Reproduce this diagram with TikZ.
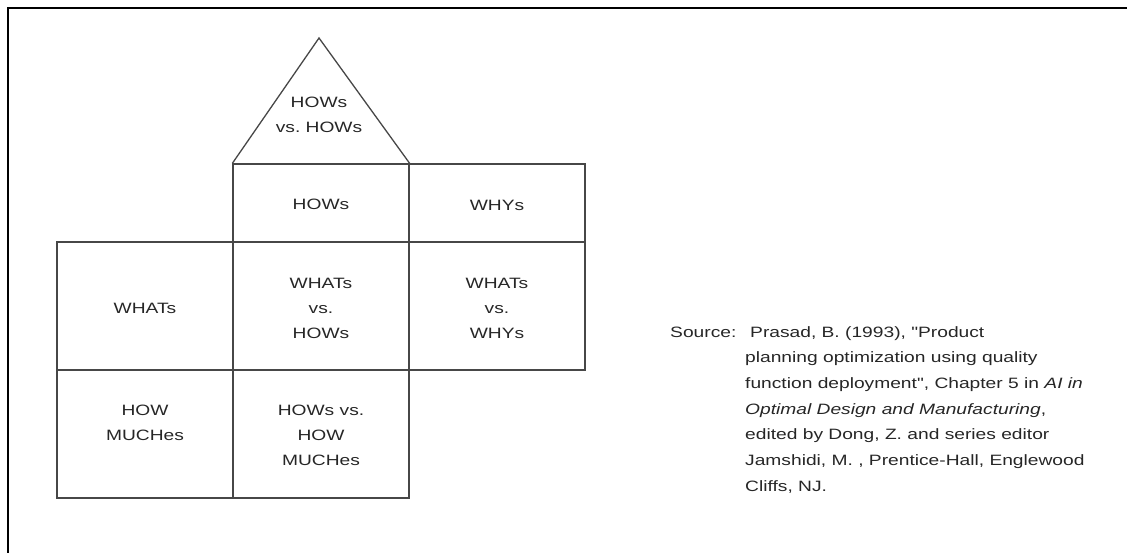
\documentclass[tikz,border=0pt]{standalone}
\usepackage{fontspec}
\newfontfamily\labelfont[FakeStretch=1.28]{Liberation Sans}
\begin{document}
\begin{tikzpicture}[x=1pt,y=-1pt,
  cell/.style={draw=black!72, line width=1.3pt, inner sep=0pt, minimum width=176pt},
  shortcell/.style={cell, minimum height=78pt},
  tallcell/.style={cell, minimum height=128pt},
  txt/.style={align=center, inner sep=0pt, text=black!85,
    font=\labelfont\fontsize{15pt}{25pt}\selectfont},
  srctxt/.style={anchor=base west, inner sep=0pt, text=black!85,
    font=\labelfont\fontsize{15pt}{25pt}\selectfont},
  framestyle/.style={line width=2.4pt, black}]
\useasboundingbox (0,0) rectangle (1127,552);

% outer frame (left and top edges)
\coordinate (fbl) at (8,554);
\coordinate (ftl) at (8,8);
\coordinate (ftr) at (1129,8);
\draw[framestyle] (fbl) -- (ftl) -- (ftr);

% matrix cells
\node[shortcell] (hows)   at (321,203) {};
\node[shortcell] (whys)   at (497,203) {};
\node[tallcell]  (whats)  at (145,306) {};
\node[tallcell]  (wh)     at (321,306) {};
\node[tallcell]  (wy)     at (497,306) {};
\node[tallcell]  (hm)     at (145,434) {};
\node[tallcell]  (hhm)    at (321,434) {};

% roof
\coordinate (apex) at (319,38);
\draw[black!72, line width=1.3pt, line join=miter] (hows.north west) -- (apex) -- (hows.north east);

% cell texts
\node[txt] (troof)  at (319,115) {HOWs\\vs.\ HOWs};
\node[txt] (thows)  at (321,204) {HOWs};
\node[txt] (twhys)  at (497,205) {WHYs};
\node[txt] (twhats) at (145,308) {WHATs};
\node[txt] (twh)    at (321,308) {WHATs\\vs.\\HOWs};
\node[txt] (twy)    at (497,308) {WHATs\\vs.\\WHYs};
\node[txt] (thm)    at (145,423) {HOW\\MUCHes};
\node[txt] (thhm)   at (321,435) {HOWs vs.\\HOW\\MUCHes};

% source reference
\node[srctxt] (srclabel) at (670,337) {Source:};
\node[srctxt] (src1) at (750,337) {Prasad, B. (1993), "Product};
\node[srctxt] (src2) at (745,362.7) {planning optimization using quality};
\node[srctxt] (src3) at (745,388.4) {function deployment", Chapter 5 in \textit{AI in}};
\node[srctxt] (src4) at (745,414.1) {\textit{Optimal Design and Manufacturing},};
\node[srctxt] (src5) at (745,439.8) {edited by Dong, Z. and series editor};
\node[srctxt] (src6) at (745,465.5) {Jamshidi, M. , Prentice-Hall, Englewood};
\node[srctxt] (src7) at (745,491.2) {Cliffs, NJ.};
\end{tikzpicture}
\end{document}
